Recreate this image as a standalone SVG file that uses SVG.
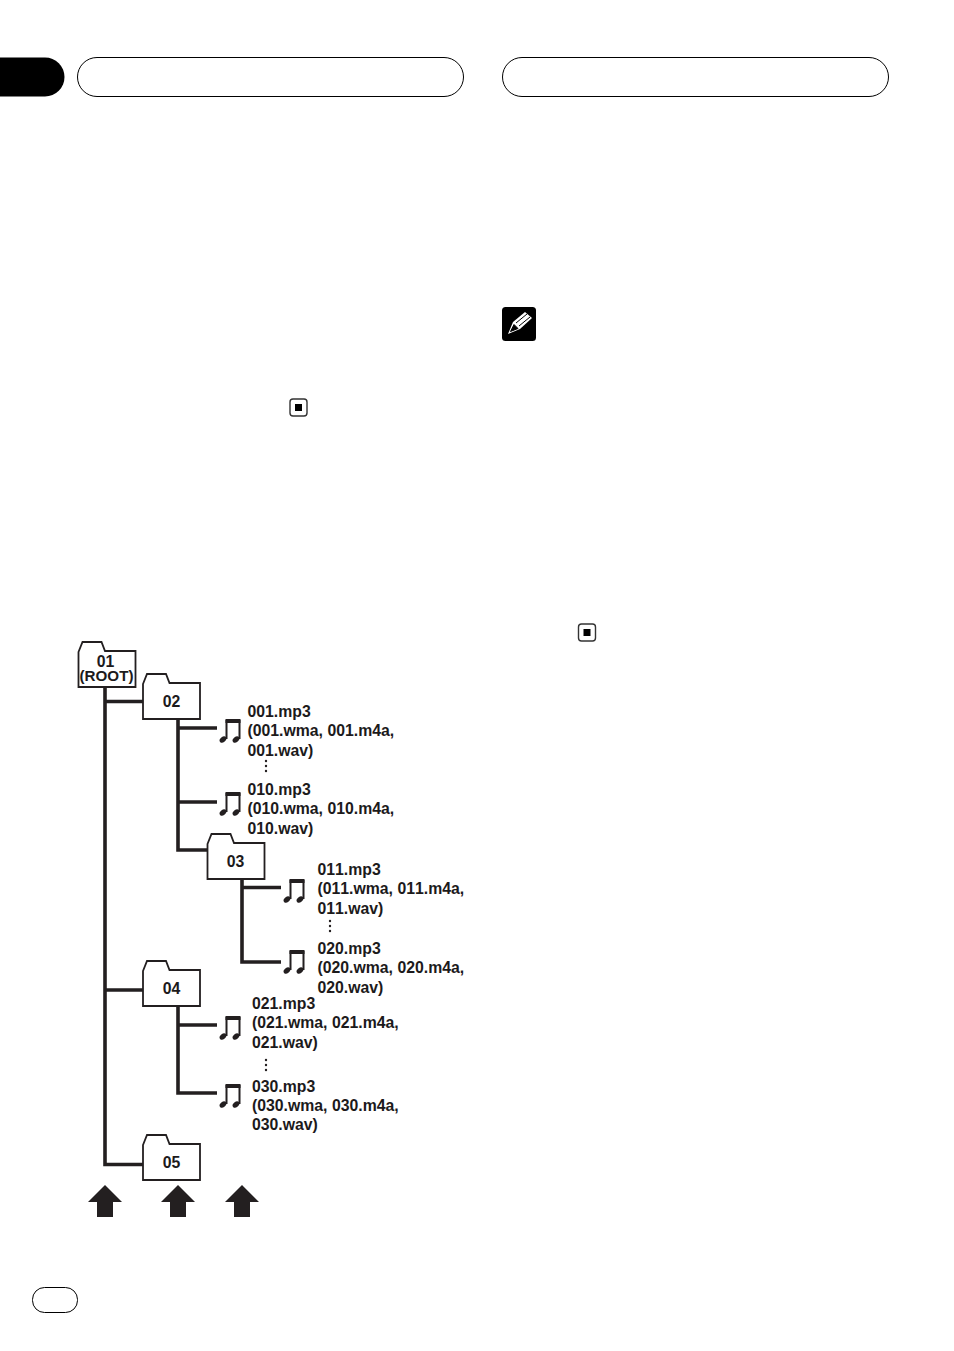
<svg xmlns="http://www.w3.org/2000/svg" width="954" height="1351" viewBox="0 0 954 1351">
<style>
.pill{fill:#fff;stroke:#000;stroke-width:1}
.stop{fill:#fff;stroke:#333;stroke-width:1.4}
.folder{fill:#fff;stroke:#231f20;stroke-width:1.800}
.wire{fill:none;stroke:#231f20;stroke-width:3.600}
.t{font-family:"Liberation Sans",Arial,sans-serif;font-weight:700;font-size:15.800px;fill:#1c1a1b;font-kerning:none}
.c{text-anchor:middle}
.dot{fill:#231f20}
</style>
<defs>
<path id="fold" d="M0 10L4 0H23L26.500 9H57V45H0Z"/>
<g id="note">
<path d="M7.500 1V20M20.500 1V20" stroke="#231f20" stroke-width="2" fill="none"/>
<rect x="6.500" y="0" width="15" height="4" fill="#231f20"/>
<ellipse cx="4" cy="20.500" rx="3.800" ry="2.600" transform="rotate(-40 4 20.500)" fill="#231f20"/>
<ellipse cx="17" cy="20.500" rx="3.800" ry="2.600" transform="rotate(-40 17 20.500)" fill="#231f20"/>
</g>
<path id="up" d="M0 0L17 17H8V32H-8V17H-17Z" fill="#231f20"/>
<g id="dots" class="dot"><circle cx="0" cy="0" r="1.200"/><circle cx="0" cy="5" r="1.200"/><circle cx="0" cy="10" r="1.200"/></g>
</defs>

<g id="header">
<path d="M0 57.500H45A19.500 19.500 0 0 1 45 96.500H0Z" fill="#000"/>
<rect class="pill" x="77.500" y="57.500" width="386" height="39" rx="19.500"/>
<rect class="pill" x="502.500" y="57.500" width="386" height="39" rx="19.500"/>
</g>
<g id="page-number"><rect class="pill" x="32.500" y="1287.500" width="45" height="25" rx="12"/></g>

<g id="stop-1"><rect class="stop" x="290" y="399" width="17" height="17" rx="3"/><rect x="295" y="404" width="7" height="7"/></g>
<g id="stop-2"><rect class="stop" x="578.500" y="624" width="17" height="17" rx="3"/><rect x="583.500" y="629" width="7" height="7"/></g>

<g id="note-icon">
<rect x="502" y="307" width="34" height="34" rx="3.500" fill="#000"/>
<path d="M508 334L513 322L525 312L532 318L520 329Z" fill="#fff"/>
<path d="M510.500 331.500L514 324.500L518 328.500ZM516 323L527 314M519 326L530 317" stroke="#000" stroke-width="1" fill="#000"/>
</g>

<g id="connectors" class="wire">
<path d="M105 687V1164.500H143M105 701.500H143M105 990H143"/>
<path d="M178 719V850H207M178 728H217M178 802H217"/>
<path d="M242 879V962H281M242 887.500H281"/>
<path d="M178 1006V1093H217M178 1025H217"/>
</g>

<g id="folder-01"><use href="#fold" x="78.500" y="642" class="folder"/><text class="t c" style="font-size:15.200px"><tspan x="105.500" y="667" style="font-size:15.800px">01</tspan><tspan x="106.500" y="680.800">(ROOT)</tspan></text></g>
<g id="folder-02"><use href="#fold" x="143" y="674" class="folder"/><text class="t c" x="171.500" y="707">02</text></g>
<g id="folder-03"><use href="#fold" x="207.500" y="834" class="folder"/><text class="t c" x="235.500" y="867">03</text></g>
<g id="folder-04"><use href="#fold" x="143" y="961" class="folder"/><text class="t c" x="171.500" y="994">04</text></g>
<g id="folder-05"><use href="#fold" x="143" y="1135" class="folder"/><text class="t c" x="171.500" y="1168">05</text></g>

<g id="track-001"><use href="#note" x="219" y="719"/>
<text class="t" x="247.500" y="716.500">001.mp3</text><text class="t" x="247.500" y="735.500">(001.wma, 001.m4a,</text><text class="t" x="247.500" y="755.500">001.wav)</text></g>
<use id="gap-1" href="#dots" x="266" y="761"/>
<g id="track-010"><use href="#note" x="219" y="792"/>
<text class="t" x="247.500" y="794.500">010.mp3</text><text class="t" x="247.500" y="813.500">(010.wma, 010.m4a,</text><text class="t" x="247.500" y="833.500">010.wav)</text></g>

<g id="track-011"><use href="#note" x="283" y="879"/>
<text class="t" x="317.500" y="874.500">011.mp3</text><text class="t" x="317.500" y="893.500">(011.wma, 011.m4a,</text><text class="t" x="317.500" y="913.500">011.wav)</text></g>
<use id="gap-2" href="#dots" x="330" y="921"/>
<g id="track-020"><use href="#note" x="283" y="950"/>
<text class="t" x="317.500" y="953.500">020.mp3</text><text class="t" x="317.500" y="972.500">(020.wma, 020.m4a,</text><text class="t" x="317.500" y="992.500">020.wav)</text></g>

<g id="track-021"><use href="#note" x="219" y="1016"/>
<text class="t" x="252" y="1008.500">021.mp3</text><text class="t" x="252" y="1027.500">(021.wma, 021.m4a,</text><text class="t" x="252" y="1047.500">021.wav)</text></g>
<use id="gap-3" href="#dots" x="266" y="1060"/>
<g id="track-030"><use href="#note" x="219" y="1084"/>
<text class="t" x="252" y="1091.500">030.mp3</text><text class="t" x="252" y="1110.500">(030.wma, 030.m4a,</text><text class="t" x="252" y="1129.500">030.wav)</text></g>

<g id="level-arrows"><use href="#up" x="105" y="1185"/><use href="#up" x="178" y="1185"/><use href="#up" x="242" y="1185"/></g>
</svg>
